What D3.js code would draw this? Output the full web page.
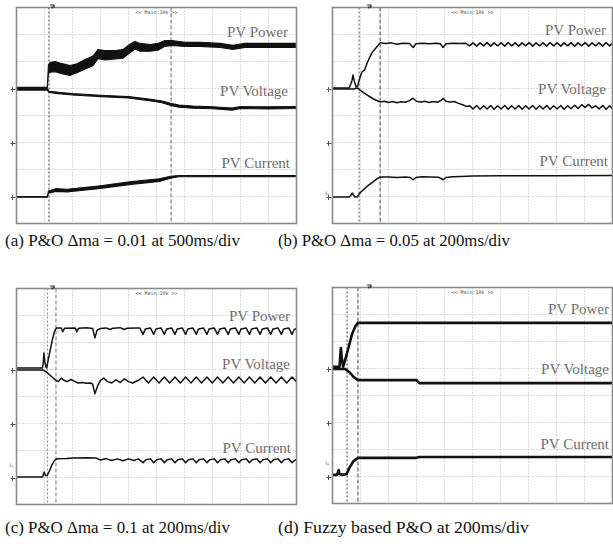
<!DOCTYPE html>
<html><head><meta charset="utf-8">
<script src="https://cdn.jsdelivr.net/npm/d3@7"></script>
<style>html,body{margin:0;padding:0;background:#fff;}svg{display:block;}
.serif{font-family:"Liberation Serif","Times New Roman",Times,"DejaVu Serif",serif;}</style>
</head><body>
<svg id="chart" width="613" height="544"></svg>
<script>
// ---------------- DATA (x in divisions 0-10, y in divisions 0-8 above bottom graticule) ----------------
const captions = ["(a) P&O \u0394ma = 0.01 at 500ms/div", "(b) P&O \u0394ma = 0.05 at 200ms/div",
                  "(c) P&O \u0394ma = 0.1 at 200ms/div", "(d) Fuzzy based P&O at 200ms/div"];
const traceNames = ["PV Power", "PV Voltage", "PV Current"];
const groundLevels = [5, 3, 1];
const scopeTitle = "<< Main:10k >>";

// panel (a): noisy traces given as [x, low, high] envelopes
const powerA = [[0,5.0,5.04],[1.1,5.0,5.04],[1.14,5.55,5.88],[1.2,5.6,5.96],[1.375,5.62,6.0],[1.625,5.55,5.92],[1.91,5.48,5.85],[2.16,5.58,5.92],[2.45,5.72,6.07],[2.73,5.84,6.2],[2.91,6.1,6.44],[3.16,6.06,6.41],[3.52,6.09,6.41],[3.80,6.12,6.44],[3.98,6.27,6.59],[4.23,6.46,6.74],[4.41,6.38,6.67],[4.77,6.38,6.63],[5.05,6.42,6.67],[5.30,6.56,6.78],[5.55,6.59,6.78],[6.02,6.56,6.71],[6.55,6.56,6.71],[7.27,6.52,6.67],[7.73,6.45,6.6],[8.16,6.52,6.67],[9.05,6.52,6.67],[10,6.52,6.67]];
const voltageA = [[0,4.94,4.98],[1.1,4.94,4.98],[1.16,4.85,4.9],[1.5,4.81,4.86],[2.0,4.76,4.81],[3.0,4.70,4.75],[4.0,4.65,4.70],[4.8,4.54,4.60],[5.2,4.47,4.54],[5.5,4.37,4.45],[5.8,4.31,4.39],[6.3,4.27,4.35],[7.0,4.25,4.32],[7.7,4.2,4.28],[8.0,4.26,4.33],[9.0,4.24,4.32],[10,4.26,4.33]];
const currentA = [[0,0.97,1.0],[1.1,0.97,1.0],[1.14,1.12,1.2],[1.4,1.19,1.29],[1.8,1.17,1.27],[2.4,1.23,1.33],[3.0,1.3,1.4],[4.1,1.45,1.55],[5.1,1.56,1.66],[5.5,1.68,1.75],[5.8,1.73,1.78],[10,1.73,1.78]];
const cursorsA = [1.16, 5.52];

// panel (b)
const powerB = [[0,5.02],[0.6,5.02],[0.7,5.31],[0.73,5.50],[0.77,5.31],[0.84,5.06],[0.9,5.09],[0.95,5.31],[1.05,5.61],[1.15,5.69],[1.25,5.98],[1.4,6.31],[1.55,6.50],[1.7,6.69],[1.9,6.67],[2.1,6.69],[2.3,6.64],[2.5,6.68],[2.75,6.67],[2.88,6.52],[2.98,6.66],[3.2,6.68],[3.45,6.66],[3.7,6.68],[3.85,6.66],[3.95,6.52],[4.05,6.66],[4.3,6.68],[4.55,6.67],[4.75,6.68],
 [4.9,6.58],[5.02,6.69],[5.15,6.57],[5.27,6.69],[5.4,6.58],[5.52,6.70],[5.65,6.57],[5.77,6.69],[5.9,6.58],[6.02,6.69],[6.15,6.57],[6.27,6.70],[6.4,6.58],[6.52,6.69],[6.65,6.57],[6.77,6.69],[6.9,6.58],[7.02,6.70],[7.15,6.57],[7.27,6.69],[7.4,6.58],[7.52,6.69],[7.65,6.57],[7.77,6.70],[7.9,6.58],[8.02,6.69],[8.15,6.57],[8.27,6.69],[8.4,6.58],[8.52,6.70],[8.65,6.57],[8.77,6.69],[8.9,6.58],[9.02,6.70],[9.15,6.57],[9.27,6.69],[9.4,6.58],[9.52,6.69],[9.65,6.57],[9.77,6.70],[9.9,6.58],[10,6.68]];
const voltageB = [[0,4.98],[0.75,4.98],[0.88,5.02],[1.0,4.93],[1.2,4.78],[1.45,4.62],[1.7,4.50],[1.85,4.53],[2.0,4.48],[2.15,4.52],[2.3,4.47],[2.45,4.51],[2.6,4.49],[2.75,4.55],[2.88,4.64],[3.0,4.53],[3.15,4.50],[3.3,4.53],[3.45,4.48],[3.6,4.52],[3.75,4.49],[3.88,4.56],[3.95,4.64],[4.05,4.53],[4.2,4.50],[4.35,4.52],[4.5,4.45],[4.65,4.40],[4.8,4.33],
 [4.9,4.36],[5.02,4.24],[5.15,4.37],[5.27,4.23],[5.4,4.36],[5.52,4.24],[5.65,4.37],[5.77,4.23],[5.9,4.36],[6.02,4.24],[6.15,4.37],[6.27,4.23],[6.4,4.36],[6.52,4.24],[6.65,4.37],[6.77,4.23],[6.9,4.36],[7.02,4.24],[7.15,4.37],[7.27,4.23],[7.4,4.36],[7.52,4.24],[7.65,4.37],[7.77,4.23],[7.9,4.36],[8.02,4.24],[8.15,4.37],[8.27,4.23],[8.4,4.36],[8.52,4.25],[8.65,4.38],[8.77,4.26],[8.9,4.40],[9.02,4.30],[9.15,4.41],[9.27,4.28],[9.4,4.36],[9.52,4.24],[9.65,4.37],[9.77,4.23],[9.9,4.36],[10,4.25]];
const currentB = [[0,0.98],[0.6,0.98],[0.66,1.05],[0.7,1.13],[0.75,1.05],[0.8,0.98],[0.88,0.98],[0.95,1.09],[1.05,1.2],[1.25,1.39],[1.45,1.54],[1.6,1.66],[1.7,1.72],[2.0,1.72],[2.3,1.70],[2.6,1.72],[2.78,1.70],[2.88,1.62],[2.98,1.70],[3.2,1.73],[3.5,1.72],[3.8,1.71],[3.95,1.62],[4.05,1.70],[4.3,1.73],[4.6,1.74],[5.0,1.76],[6.0,1.77],[8.0,1.77],[10,1.78]];
const cursorsB = [0.95, 1.70];

// panel (c)
const powerC = [[0,5.06],[0.93,5.06],[0.96,5.3],[0.98,5.61],[1.01,5.3],[1.05,5.1],[1.08,5.06],[1.13,5.35],[1.2,5.7],[1.28,6.1],[1.36,6.42],[1.43,6.54],
 [1.6,6.54],[1.65,6.40],[1.72,6.53],[2.1,6.54],[2.15,6.40],[2.22,6.53],[2.5,6.55],[2.72,6.52],[2.80,6.17],[2.88,6.46],[3.0,6.52],[3.2,6.54],[3.35,6.48],[3.45,6.53],[3.7,6.55],[3.85,6.48],[3.95,6.53],[4.3,6.54],[4.4,6.54],
 [4.52,6.30],[4.6,6.50],[4.78,6.54],[4.90,6.30],[4.98,6.50],[5.16,6.54],[5.28,6.30],[5.36,6.50],[5.54,6.54],[5.66,6.30],[5.74,6.50],[5.92,6.54],[6.04,6.30],[6.12,6.50],[6.30,6.54],[6.42,6.30],[6.5,6.50],[6.68,6.54],[6.80,6.30],[6.88,6.50],[7.06,6.54],[7.18,6.30],[7.26,6.50],[7.44,6.54],[7.56,6.30],[7.64,6.50],[7.82,6.54],[7.94,6.30],[8.02,6.50],[8.2,6.54],[8.32,6.30],[8.4,6.50],[8.58,6.54],[8.70,6.30],[8.78,6.50],[8.96,6.54],[9.08,6.30],[9.16,6.50],[9.34,6.54],[9.46,6.30],[9.54,6.50],[9.72,6.54],[9.84,6.30],[9.92,6.48],[10,6.52]];
const voltageC = [[0,4.98],[0.93,4.98],[1.0,4.95],[1.1,4.88],[1.25,4.74],[1.4,4.60],[1.5,4.55],[1.6,4.68],[1.7,4.60],[1.8,4.55],[1.95,4.63],[2.1,4.55],[2.2,4.50],[2.35,4.52],[2.5,4.49],[2.65,4.50],[2.72,4.46],[2.80,4.10],[2.9,4.40],[3.0,4.60],[3.12,4.68],[3.25,4.55],[3.4,4.50],[3.55,4.62],[3.7,4.52],[3.85,4.65],[4.0,4.55],[4.15,4.50],[4.35,4.60],
 [4.52,4.72],[4.71,4.50],[4.90,4.72],[5.09,4.50],[5.28,4.72],[5.47,4.50],[5.66,4.72],[5.85,4.50],[6.04,4.72],[6.23,4.50],[6.42,4.72],[6.61,4.50],[6.80,4.72],[6.99,4.50],[7.18,4.72],[7.37,4.50],[7.56,4.72],[7.75,4.50],[7.94,4.72],[8.13,4.50],[8.32,4.72],[8.51,4.50],[8.70,4.72],[8.89,4.50],[9.08,4.72],[9.27,4.50],[9.46,4.72],[9.65,4.50],[9.84,4.72],[10,4.55]];
const currentC = [[0,1.02],[0.93,1.02],[0.96,1.12],[0.99,1.20],[1.02,1.12],[1.05,1.06],[1.1,1.09],[1.18,1.25],[1.25,1.43],[1.35,1.62],[1.43,1.69],[1.8,1.70],[2.0,1.72],[2.5,1.73],[2.85,1.72],[3.0,1.65],[3.2,1.70],[3.4,1.63],[3.6,1.69],[3.8,1.62],[4.0,1.69],[4.2,1.63],[4.35,1.69],
 [4.52,1.55],[4.62,1.66],[4.78,1.69],[4.90,1.55],[5.0,1.66],[5.16,1.69],[5.28,1.55],[5.38,1.66],[5.54,1.69],[5.66,1.55],[5.76,1.66],[5.92,1.69],[6.04,1.55],[6.14,1.66],[6.30,1.69],[6.42,1.55],[6.52,1.66],[6.68,1.69],[6.80,1.55],[6.90,1.66],[7.06,1.69],[7.18,1.55],[7.28,1.66],[7.44,1.69],[7.56,1.55],[7.66,1.66],[7.82,1.69],[7.94,1.55],[8.04,1.66],[8.2,1.69],[8.32,1.55],[8.42,1.66],[8.58,1.69],[8.70,1.55],[8.80,1.66],[8.96,1.69],[9.08,1.55],[9.18,1.66],[9.34,1.69],[9.46,1.55],[9.56,1.66],[9.72,1.69],[9.84,1.55],[9.94,1.64],[10,1.67]];
const cursorsC = [1.11, 1.41];

// panel (d)
const powerD = [[0,5.06],[0.25,5.06],[0.28,5.5],[0.3,5.76],[0.33,5.39],[0.38,5.06],[0.43,5.24],[0.55,5.69],[0.7,6.28],[0.82,6.57],[0.91,6.69],[10,6.69]];
const voltageD = [[0,4.98],[0.45,4.98],[0.6,4.87],[0.75,4.69],[0.91,4.57],[3.0,4.57],[3.1,4.46],[10,4.46]];
const currentD = [[0,1.06],[0.16,1.06],[0.22,1.24],[0.25,1.09],[0.38,1.06],[0.5,1.09],[0.62,1.35],[0.75,1.57],[0.91,1.69],[3.0,1.69],[3.1,1.72],[10,1.72]];
const cursorsD = [0.52, 0.91];

const triggerPos = [1.27, 1.3, 1.27, 1.3];
const currentMarker = [null, 1.13, 1.46, 1.5];

// ---------------- LAYOUT ----------------
const W = 280, H = 216;
const layout = [
  {left:16.5, top:7.5, cap:[5,246,235], labels:[[288,37],[288,96],[290,168]], lw:1.1, cur:["#333","#666"]},
  {left:332.5, top:7.5, cap:[278,246,232], labels:[[606,35],[606,94],[608,166]], lw:1.5, cur:["#555","#444"]},
  {left:16.5, top:288.5, cap:[5,533,225], labels:[[290,321],[290,369],[291,453]], lw:1.5, cur:["#888","#777"]},
  {left:332.5, top:287.5, cap:[278,533,251], labels:[[609,314],[609,374],[609,449]], lw:2.6, cur:["#444","#444"]}
];
const panelData = [
  {traces:[powerA, voltageA, currentA], cursors:cursorsA},
  {traces:[powerB, voltageB, currentB], cursors:cursorsB},
  {traces:[powerC, voltageC, currentC], cursors:cursorsC},
  {traces:[powerD, voltageD, currentD], cursors:cursorsD}
];

const svg = d3.select("#chart");
svg.append("rect").attr("width",613).attr("height",544).attr("fill","#fff");

panelData.forEach((pd, i) => {
  const L = layout[i];
  const x = d3.scaleLinear().domain([0,10]).range([L.left, L.left+W]);
  const y = d3.scaleLinear().domain([0,8]).range([L.top+H, L.top]);
  const g = svg.append("g");
  const clipId = "clip"+i;
  g.append("clipPath").attr("id",clipId).append("rect")
    .attr("x",L.left).attr("y",L.top).attr("width",W).attr("height",H);

  // graticule
  g.selectAll(".vg").data(d3.range(1,10)).join("line")
    .attr("x1",d=>x(d)).attr("x2",d=>x(d)).attr("y1",L.top).attr("y2",L.top+H)
    .attr("stroke","#b4b4b4").attr("stroke-width",1).attr("stroke-dasharray","1,2");
  g.selectAll(".hg").data(d3.range(1,8)).join("line")
    .attr("y1",d=>y(d)).attr("y2",d=>y(d)).attr("x1",L.left).attr("x2",L.left+W)
    .attr("stroke","#b4b4b4").attr("stroke-width",1).attr("stroke-dasharray","1,2");

  // cursors
  g.selectAll(".cur").data(pd.cursors).join("line")
    .attr("x1",d=>x(d)).attr("x2",d=>x(d)).attr("y1",L.top).attr("y2",L.top+H)
    .attr("stroke",(d,k)=>L.cur[k]).attr("stroke-width",1).attr("stroke-dasharray",(d,k)=>k===0?"2,2":"4,2");

  // title
  g.append("text").attr("x",x(5)).attr("y",L.top+6).attr("text-anchor","middle")
    .attr("font-family","DejaVu Sans Mono").attr("font-size",5).attr("fill","#555").text(scopeTitle);

  // traces
  const tg = g.append("g").attr("clip-path",`url(#${clipId})`);
  pd.traces.forEach(tr => {
    if (tr[0].length > 2) {
      const area = d3.area().x(d=>x(d[0])).y0(d=>y(d[1])).y1(d=>y(d[2]));
      tg.append("path").attr("d",area(tr)).attr("fill","#111").attr("stroke","#111")
        .attr("stroke-width",L.lw).attr("stroke-linejoin","round");
    } else {
      const line = d3.line().x(d=>x(d[0])).y(d=>y(d[1]));
      tg.append("path").attr("d",line(tr)).attr("fill","none").attr("stroke","#111")
        .attr("stroke-width",L.lw).attr("stroke-linejoin","round");
    }
  });

  // border
  g.append("rect").attr("x",L.left).attr("y",L.top).attr("width",W).attr("height",H)
    .attr("fill","none").attr("stroke","#8a8a8a").attr("stroke-width",1.6);

  // ground markers
  groundLevels.forEach(v => {
    const yy = Math.round(y(v))+0.5;
    g.append("path").attr("d",`M${L.left-6},${yy}H${L.left-1}M${L.left-4},${yy-2.5}V${yy+2.5}`)
      .attr("stroke","#555").attr("stroke-width",1).attr("fill","none");
  });
  if (currentMarker[i] !== null) {
    g.append("text").attr("x",L.left-7).attr("y",y(currentMarker[i])+2)
      .attr("font-family","DejaVu Sans").attr("font-size",5).attr("fill","#555").text("I\u2090");
  }
  // trigger marker
  g.append("path").attr("d",`M${x(triggerPos[i])-2},${L.top-2.5}h4v2h-2v1.5`)
    .attr("stroke","#222").attr("stroke-width",1.2).attr("fill","none");

  // labels
  traceNames.forEach((t, k) => {
    g.append("text").attr("class","serif").attr("x",L.labels[k][0]).attr("y",L.labels[k][1]).attr("text-anchor","end")
      .attr("font-size",15).attr("fill","#6e6e6e").text(t);
  });

  // caption
  svg.append("text").attr("class","serif").attr("x",L.cap[0]).attr("y",L.cap[1])
    .attr("font-size",17).attr("fill","#111")
    .attr("textLength",L.cap[2]).attr("lengthAdjust","spacingAndGlyphs").text(captions[i]);
});
</script>
</body></html>
